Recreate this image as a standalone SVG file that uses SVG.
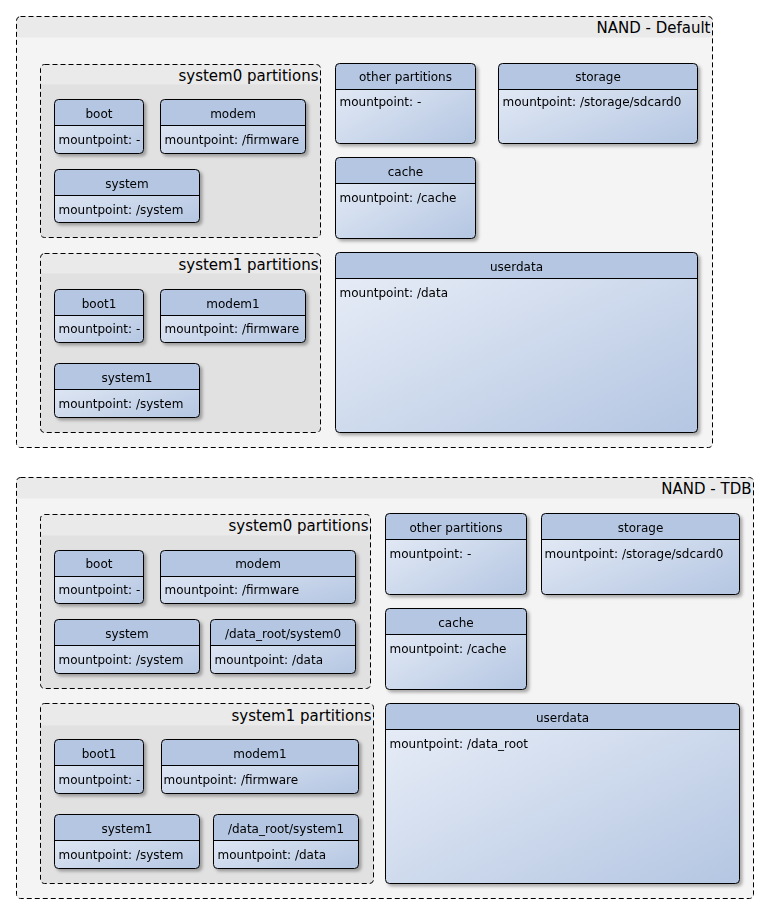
<svg xmlns="http://www.w3.org/2000/svg" width="770" height="914" viewBox="0 0 770 914">
<defs>
<linearGradient id="body" x1="0" y1="0" x2="1" y2="1">
<stop offset="0" stop-color="#EAEFF8"/>
<stop offset="1" stop-color="#B4C6E2"/>
</linearGradient>
<filter id="sh" x="-10%" y="-10%" width="130%" height="130%">
<feDropShadow dx="2.5" dy="2.5" stdDeviation="1.5" flood-color="#000" flood-opacity="0.3"/>
</filter>
</defs>
<style>
text{font-family:"DejaVu Sans","Liberation Sans",sans-serif;fill:#000}
.ob{fill:#F4F4F4;stroke:none}
.ib{fill:#E1E1E1;stroke:none}
.band{fill:#EAEAEA;stroke:none}
.pb{fill:none;stroke:#000;stroke-width:1;stroke-dasharray:5,3}
.nb{fill:url(#body);stroke:none}
.nh{fill:#B4C6E2;stroke:none}
.nl{stroke:#000;stroke-width:1}
.no{fill:none;stroke:#000;stroke-width:1}
.node{filter:url(#sh)}
.pt{font-size:15px;text-anchor:end}
.nt{font-size:12px;text-anchor:middle}
.nx{font-size:12px}
</style>

<!-- Package 1 -->
<g id="nand-default" transform="translate(0.5,0.5)">
<rect class="ob" x="16" y="16" width="696" height="431" rx="4"/>
<path class="band" d="M16,37 V20 Q16,16 20,16 H708 Q712,16 712,20 V37 Z"/>
<rect class="pb" x="16" y="16" width="696" height="431" rx="4"/>
<text class="pt" x="710" y="32">NAND - Default</text>
</g>
<g id="p1-system0" transform="translate(0.5,0.5)">
<rect class="ib" x="40" y="64" width="280" height="173" rx="4"/>
<path class="band" d="M40,84 V68 Q40,64 44,64 H316 Q320,64 320,68 V84 Z"/>
<rect class="pb" x="40" y="64" width="280" height="173" rx="4"/>
<text class="pt" x="318" y="80">system0 partitions</text>
</g>
<g id="p1-system1" transform="translate(0.5,0.5)">
<rect class="ib" x="40" y="253" width="280" height="179" rx="4"/>
<path class="band" d="M40,273 V257 Q40,253 44,253 H316 Q320,253 320,257 V273 Z"/>
<rect class="pb" x="40" y="253" width="280" height="179" rx="4"/>
<text class="pt" x="318" y="269">system1 partitions</text>
</g>

<g id="p1-boot" class="node" transform="translate(54.5,99.5)">
<rect class="nb" width="89" height="54" rx="4"/>
<path class="nh" d="M0,26 V4 Q0,0 4,0 H85 Q89,0 89,4 V26 Z"/>
<line class="nl" x1="0" y1="26" x2="89" y2="26"/>
<rect class="no" width="89" height="54" rx="4"/>
<text class="nt" x="44.5" y="18">boot</text>
<text class="nx" x="4" y="44">mountpoint: -</text>
</g>
<g id="p1-modem" class="node" transform="translate(160.5,99.5)">
<rect class="nb" width="145" height="54" rx="4"/>
<path class="nh" d="M0,26 V4 Q0,0 4,0 H141 Q145,0 145,4 V26 Z"/>
<line class="nl" x1="0" y1="26" x2="145" y2="26"/>
<rect class="no" width="145" height="54" rx="4"/>
<text class="nt" x="72.5" y="18">modem</text>
<text class="nx" x="4" y="44">mountpoint: /firmware</text>
</g>
<g id="p1-system" class="node" transform="translate(54.5,169.5)">
<rect class="nb" width="145" height="53" rx="4"/>
<path class="nh" d="M0,26 V4 Q0,0 4,0 H141 Q145,0 145,4 V26 Z"/>
<line class="nl" x1="0" y1="26" x2="145" y2="26"/>
<rect class="no" width="145" height="53" rx="4"/>
<text class="nt" x="72.5" y="18">system</text>
<text class="nx" x="4" y="44">mountpoint: /system</text>
</g>
<g id="p1-boot1" class="node" transform="translate(54.5,289.5)">
<rect class="nb" width="89" height="53" rx="4"/>
<path class="nh" d="M0,26 V4 Q0,0 4,0 H85 Q89,0 89,4 V26 Z"/>
<line class="nl" x1="0" y1="26" x2="89" y2="26"/>
<rect class="no" width="89" height="53" rx="4"/>
<text class="nt" x="44.5" y="18">boot1</text>
<text class="nx" x="4" y="43">mountpoint: -</text>
</g>
<g id="p1-modem1" class="node" transform="translate(160.5,289.5)">
<rect class="nb" width="145" height="53" rx="4"/>
<path class="nh" d="M0,26 V4 Q0,0 4,0 H141 Q145,0 145,4 V26 Z"/>
<line class="nl" x1="0" y1="26" x2="145" y2="26"/>
<rect class="no" width="145" height="53" rx="4"/>
<text class="nt" x="72.5" y="18">modem1</text>
<text class="nx" x="4" y="43">mountpoint: /firmware</text>
</g>
<g id="p1-system1n" class="node" transform="translate(54.5,363.5)">
<rect class="nb" width="145" height="54" rx="4"/>
<path class="nh" d="M0,26 V4 Q0,0 4,0 H141 Q145,0 145,4 V26 Z"/>
<line class="nl" x1="0" y1="26" x2="145" y2="26"/>
<rect class="no" width="145" height="54" rx="4"/>
<text class="nt" x="72.5" y="18">system1</text>
<text class="nx" x="4" y="44">mountpoint: /system</text>
</g>
<g id="p1-other" class="node" transform="translate(335.5,63.5)">
<rect class="nb" width="140" height="80" rx="4"/>
<path class="nh" d="M0,26 V4 Q0,0 4,0 H136 Q140,0 140,4 V26 Z"/>
<line class="nl" x1="0" y1="26" x2="140" y2="26"/>
<rect class="no" width="140" height="80" rx="4"/>
<text class="nt" x="70" y="17">other partitions</text>
<text class="nx" x="4" y="42">mountpoint: -</text>
</g>
<g id="p1-storage" class="node" transform="translate(498.5,63.5)">
<rect class="nb" width="199" height="80" rx="4"/>
<path class="nh" d="M0,26 V4 Q0,0 4,0 H195 Q199,0 199,4 V26 Z"/>
<line class="nl" x1="0" y1="26" x2="199" y2="26"/>
<rect class="no" width="199" height="80" rx="4"/>
<text class="nt" x="99.5" y="17">storage</text>
<text class="nx" x="4" y="42">mountpoint: /storage/sdcard0</text>
</g>
<g id="p1-cache" class="node" transform="translate(335.5,157.5)">
<rect class="nb" width="140" height="81" rx="4"/>
<path class="nh" d="M0,26 V4 Q0,0 4,0 H136 Q140,0 140,4 V26 Z"/>
<line class="nl" x1="0" y1="26" x2="140" y2="26"/>
<rect class="no" width="140" height="81" rx="4"/>
<text class="nt" x="70" y="18">cache</text>
<text class="nx" x="4" y="44">mountpoint: /cache</text>
</g>
<g id="p1-userdata" class="node" transform="translate(335.5,252.5)">
<rect class="nb" width="362" height="180" rx="4"/>
<path class="nh" d="M0,26 V4 Q0,0 4,0 H358 Q362,0 362,4 V26 Z"/>
<line class="nl" x1="0" y1="26" x2="362" y2="26"/>
<rect class="no" width="362" height="180" rx="4"/>
<text class="nt" x="181" y="18">userdata</text>
<text class="nx" x="4" y="44">mountpoint: /data</text>
</g>

<!-- Package 2 -->
<g id="nand-tdb" transform="translate(0.5,0.5)">
<rect class="ob" x="16" y="477" width="737" height="421" rx="4"/>
<path class="band" d="M16,498 V481 Q16,477 20,477 H749 Q753,477 753,481 V498 Z"/>
<rect class="pb" x="16" y="477" width="737" height="421" rx="4"/>
<text class="pt" x="751" y="493">NAND - TDB</text>
</g>
<g id="p2-system0" transform="translate(0.5,0.5)">
<rect class="ib" x="40" y="514" width="330" height="174" rx="4"/>
<path class="band" d="M40,535 V518 Q40,514 44,514 H366 Q370,514 370,518 V535 Z"/>
<rect class="pb" x="40" y="514" width="330" height="174" rx="4"/>
<text class="pt" x="368" y="530">system0 partitions</text>
</g>
<g id="p2-system1" transform="translate(0.5,0.5)">
<rect class="ib" x="40" y="703" width="333" height="180" rx="4"/>
<path class="band" d="M40,725 V707 Q40,703 44,703 H369 Q373,703 373,707 V725 Z"/>
<rect class="pb" x="40" y="703" width="333" height="180" rx="4"/>
<text class="pt" x="371" y="720">system1 partitions</text>
</g>

<g id="p2-boot" class="node" transform="translate(54.5,550.5)">
<rect class="nb" width="89" height="53" rx="4"/>
<path class="nh" d="M0,26 V4 Q0,0 4,0 H85 Q89,0 89,4 V26 Z"/>
<line class="nl" x1="0" y1="26" x2="89" y2="26"/>
<rect class="no" width="89" height="53" rx="4"/>
<text class="nt" x="44.5" y="17">boot</text>
<text class="nx" x="4" y="43">mountpoint: -</text>
</g>
<g id="p2-modem" class="node" transform="translate(160.5,550.5)">
<rect class="nb" width="195" height="53" rx="4"/>
<path class="nh" d="M0,26 V4 Q0,0 4,0 H191 Q195,0 195,4 V26 Z"/>
<line class="nl" x1="0" y1="26" x2="195" y2="26"/>
<rect class="no" width="195" height="53" rx="4"/>
<text class="nt" x="97.5" y="17">modem</text>
<text class="nx" x="4" y="43">mountpoint: /firmware</text>
</g>
<g id="p2-system" class="node" transform="translate(54.5,619.5)">
<rect class="nb" width="145" height="54" rx="4"/>
<path class="nh" d="M0,26 V4 Q0,0 4,0 H141 Q145,0 145,4 V26 Z"/>
<line class="nl" x1="0" y1="26" x2="145" y2="26"/>
<rect class="no" width="145" height="54" rx="4"/>
<text class="nt" x="72.5" y="18">system</text>
<text class="nx" x="4" y="44">mountpoint: /system</text>
</g>
<g id="p2-dataroot0" class="node" transform="translate(210.5,619.5)">
<rect class="nb" width="145" height="54" rx="4"/>
<path class="nh" d="M0,26 V4 Q0,0 4,0 H141 Q145,0 145,4 V26 Z"/>
<line class="nl" x1="0" y1="26" x2="145" y2="26"/>
<rect class="no" width="145" height="54" rx="4"/>
<text class="nt" x="72.5" y="18">/data_root/system0</text>
<text class="nx" x="4" y="44">mountpoint: /data</text>
</g>
<g id="p2-boot1" class="node" transform="translate(54.5,739.5)">
<rect class="nb" width="89" height="54" rx="4"/>
<path class="nh" d="M0,26 V4 Q0,0 4,0 H85 Q89,0 89,4 V26 Z"/>
<line class="nl" x1="0" y1="26" x2="89" y2="26"/>
<rect class="no" width="89" height="54" rx="4"/>
<text class="nt" x="44.5" y="18">boot1</text>
<text class="nx" x="4" y="44">mountpoint: -</text>
</g>
<g id="p2-modem1" class="node" transform="translate(161.5,739.5)">
<rect class="nb" width="197" height="54" rx="4"/>
<path class="nh" d="M0,26 V4 Q0,0 4,0 H193 Q197,0 197,4 V26 Z"/>
<line class="nl" x1="0" y1="26" x2="197" y2="26"/>
<rect class="no" width="197" height="54" rx="4"/>
<text class="nt" x="98.5" y="18">modem1</text>
<text class="nx" x="2" y="44">mountpoint: /firmware</text>
</g>
<g id="p2-system1n" class="node" transform="translate(54.5,814.5)">
<rect class="nb" width="145" height="54" rx="4"/>
<path class="nh" d="M0,26 V4 Q0,0 4,0 H141 Q145,0 145,4 V26 Z"/>
<line class="nl" x1="0" y1="26" x2="145" y2="26"/>
<rect class="no" width="145" height="54" rx="4"/>
<text class="nt" x="72.5" y="18">system1</text>
<text class="nx" x="4" y="44">mountpoint: /system</text>
</g>
<g id="p2-dataroot1" class="node" transform="translate(213.5,814.5)">
<rect class="nb" width="145" height="54" rx="4"/>
<path class="nh" d="M0,26 V4 Q0,0 4,0 H141 Q145,0 145,4 V26 Z"/>
<line class="nl" x1="0" y1="26" x2="145" y2="26"/>
<rect class="no" width="145" height="54" rx="4"/>
<text class="nt" x="72.5" y="18">/data_root/system1</text>
<text class="nx" x="4" y="44">mountpoint: /data</text>
</g>
<g id="p2-other" class="node" transform="translate(385.5,513.5)">
<rect class="nb" width="141" height="81" rx="4"/>
<path class="nh" d="M0,26 V4 Q0,0 4,0 H137 Q141,0 141,4 V26 Z"/>
<line class="nl" x1="0" y1="26" x2="141" y2="26"/>
<rect class="no" width="141" height="81" rx="4"/>
<text class="nt" x="70.5" y="18">other partitions</text>
<text class="nx" x="4" y="44">mountpoint: -</text>
</g>
<g id="p2-storage" class="node" transform="translate(541.5,513.5)">
<rect class="nb" width="198" height="81" rx="4"/>
<path class="nh" d="M0,26 V4 Q0,0 4,0 H194 Q198,0 198,4 V26 Z"/>
<line class="nl" x1="0" y1="26" x2="198" y2="26"/>
<rect class="no" width="198" height="81" rx="4"/>
<text class="nt" x="99" y="18">storage</text>
<text class="nx" x="3" y="44">mountpoint: /storage/sdcard0</text>
</g>
<g id="p2-cache" class="node" transform="translate(385.5,608.5)">
<rect class="nb" width="141" height="81" rx="4"/>
<path class="nh" d="M0,26 V4 Q0,0 4,0 H137 Q141,0 141,4 V26 Z"/>
<line class="nl" x1="0" y1="26" x2="141" y2="26"/>
<rect class="no" width="141" height="81" rx="4"/>
<text class="nt" x="70.5" y="18">cache</text>
<text class="nx" x="4" y="44">mountpoint: /cache</text>
</g>
<g id="p2-userdata" class="node" transform="translate(385.5,703.5)">
<rect class="nb" width="354" height="180" rx="4"/>
<path class="nh" d="M0,26 V4 Q0,0 4,0 H350 Q354,0 354,4 V26 Z"/>
<line class="nl" x1="0" y1="26" x2="354" y2="26"/>
<rect class="no" width="354" height="180" rx="4"/>
<text class="nt" x="177" y="18">userdata</text>
<text class="nx" x="4" y="44">mountpoint: /data_root</text>
</g>

<g id="connectors"></g>
</svg>
